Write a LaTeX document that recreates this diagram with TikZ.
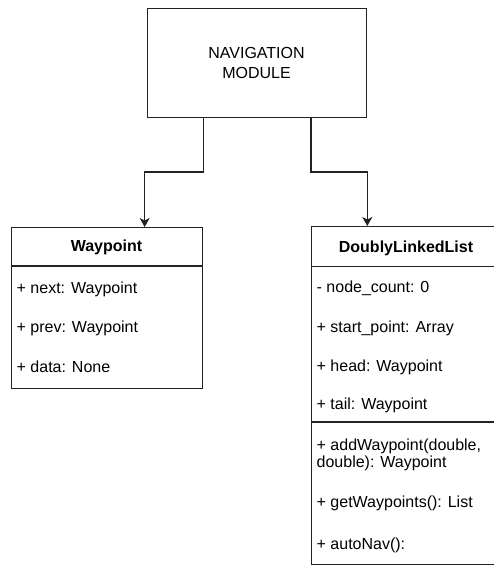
\documentclass[tikz,border=0pt]{standalone}
\usepackage{fontspec}
\setmainfont{Liberation Sans}
\usetikzlibrary{arrows.meta}
\definecolor{linec}{HTML}{222222}
\begin{document}
\begin{tikzpicture}[x=1pt,y=-1pt,
  box/.style={draw=linec, line width=1.3pt, inner sep=0pt, anchor=north west, fill=white},
  sepline/.style={draw=linec, line width=1.3pt},
  conn/.style={draw=linec, line width=1.3pt, -{Stealth[length=9pt,width=10pt,inset=2.5pt]}},
  txt/.style={anchor=base west, inner sep=0pt, font=\fontsize{16}{19}\selectfont},
  ctxt/.style={anchor=base, inner sep=0pt, font=\fontsize{16}{19}\selectfont},
  hdr/.style={anchor=base, inner sep=0pt, font=\fontsize{16}{19}\selectfont\bfseries}]
\useasboundingbox (0,0) rectangle (494,566);
\fill[white] (0,0) rectangle (494,566);

% Navigation module
\node[box, minimum width=219pt, minimum height=109pt] (nav) at (147,8) {};
\node[ctxt] (navA) at (256.5,58.3) {NAVIGATION};
\node[ctxt] (navB) at (256.5,78.3) {MODULE};

% Waypoint class
\node[box, minimum width=191pt, minimum height=161pt] (wp) at (11,227) {};
\draw[sepline] (wp.west |- 0,266) -- (wp.east |- 0,266);
\node[hdr] (wpT) at (106.5,251.7) {Waypoint};
\node[txt] (wp1) at (16.5,293) {+ next: Waypoint};
\node[txt] (wp2) at (16.5,332.5) {+ prev: Waypoint};
\node[txt] (wp3) at (16.5,372) {+ data: None};

% DoublyLinkedList class
\node[box, minimum width=190pt, minimum height=338pt] (dll) at (311,226) {};
\draw[sepline] (dll.west |- 0,266.5) -- (dll.east |- 0,266.5);
\draw[sepline] (dll.west |- 0,422) -- (dll.east |- 0,422);
\node[hdr] (dllT) at (406,252) {DoublyLinkedList};
\node[txt] (d1) at (316.5,292.5) {- node\_count: 0};
\node[txt] (d2) at (316.5,332) {+ start\_point: Array};
\node[txt] (d3) at (316.5,371.5) {+ head: Waypoint};
\node[txt] (d4) at (316.5,409.5) {+ tail: Waypoint};
\node[txt] (m1a) at (316.5,450) {+ addWaypoint(double,};
\node[txt] (m1b) at (316.5,467) {double): Waypoint};
\node[txt] (m2) at (316.5,507) {+ getWaypoints(): List};
\node[txt] (m3) at (316.5,549) {+ autoNav():};

% Connectors
\draw[conn] (nav.south -| wp.east) -- (wp.east |- 0,172) -| ([xshift=37.5pt]wp.north);
\draw[conn] (nav.south -| dll.west) -- (dll.west |- 0,172) -| (nav.south east |- dll.north);
\end{tikzpicture}
\end{document}
